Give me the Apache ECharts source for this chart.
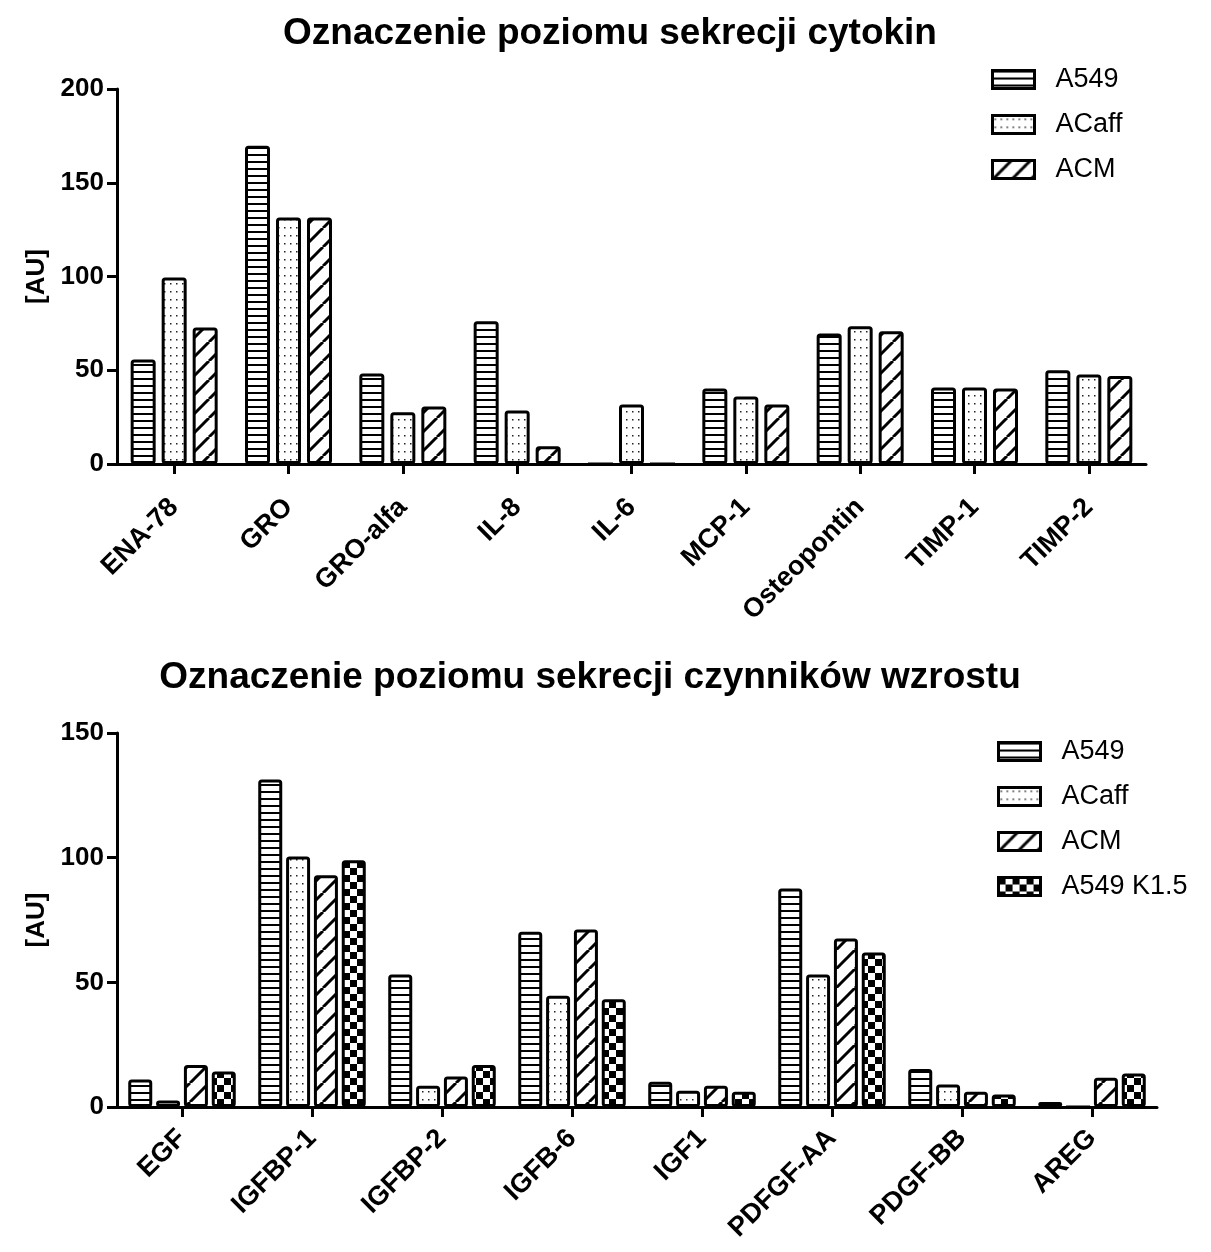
<!DOCTYPE html>
<html>
<head>
<meta charset="utf-8">
<script src="https://cdn.jsdelivr.net/npm/echarts@6/dist/echarts.min.js"></script>
<style>html,body{margin:0;padding:0;background:#fff}#c{width:1211px;height:1252px}</style>
</head>
<body>
<div id="c"></div>
<script>
// ---- data ----
const cytoTitle = 'Oznaczenie poziomu sekrecji cytokin';
const gfTitle = 'Oznaczenie poziomu sekrecji czynników wzrostu';
const yName = '[AU]';
const cytoCategories = ['ENA-78','GRO','GRO-alfa','IL-8','IL-6','MCP-1','Osteopontin','TIMP-1','TIMP-2'];
const cytoA549  = [55.8, 169.8, 48.3, 76.2, 0, 40.3, 69.6, 40.8, 50.0];
const cytoACaff = [99.5, 131.5, 27.6, 28.5, 31.7, 36.0, 73.5, 40.8, 47.7];
const cytoACM   = [72.8, 131.5, 30.7, 9.5, 0, 31.7, 70.8, 40.3, 47.0];
const cytoTicks = [0, 50, 100, 150, 200];

const gfCategories = ['EGF','IGFBP-1','IGFBP-2','IGFB-6','IGF1','PDFGF-AA','PDGF-BB','AREG'];
const gfA549  = [11.0, 131.4, 53.1, 70.3, 10.1, 87.6, 15.2, 2.0];
const gfACaff = [2.6, 100.5, 8.5, 44.6, 6.5, 53.1, 9.0, 0];
const gfACM   = [16.8, 92.9, 12.2, 71.2, 8.5, 67.6, 6.1, 11.7];
const gfK15   = [14.2, 99.0, 16.8, 43.2, 6.1, 62.0, 5.0, 13.4];
const gfTicks = [0, 50, 100, 150];

const cytoSeriesNames = ['A549', 'ACaff', 'ACM'];
const gfSeriesNames = ['A549 ', 'ACaff ', 'ACM ', 'A549 K1.5'];

// ---- patterns ----
function mk(w, h, draw) {
  const c = document.createElement('canvas');
  c.width = w; c.height = h;
  const g = c.getContext('2d');
  g.fillStyle = '#fff'; g.fillRect(0, 0, w, h);
  g.fillStyle = '#000'; g.strokeStyle = '#000';
  draw(g, w, h);
  return { image: c, repeat: 'repeat' };
}
const patH = mk(8, 7, (g, w) => { g.fillRect(0, 0, w, 2); });
const patDot = mk(6, 8, (g) => { g.fillStyle = '#222'; g.fillRect(2, 3, 1.5, 1.5); });
const patDiag = mk(19, 19, (g, w, h) => {
  g.lineWidth = 3;
  for (const o of [-w, 0, w]) {
    g.beginPath(); g.moveTo(o, h); g.lineTo(o + w, 0); g.stroke();
  }
});
const patChk = mk(14, 14, (g) => { g.fillRect(0, 0, 7, 7); g.fillRect(7, 7, 7, 7); });

const FONT = 'Liberation Sans, Arial, sans-serif';

function barSeries(name, data, pat, axisIdx) {
  return {
    type: 'bar', name, data,
    xAxisIndex: axisIdx, yAxisIndex: axisIdx,
    barWidth: axisIdx === 0 ? 25 : 24,
    barGap: axisIdx === 0 ? '24%' : '16%',
    itemStyle: { color: pat, borderColor: '#000', borderWidth: 3, borderRadius: 2 },
    emphasis: { disabled: true },
    animation: false
  };
}
function yAx(ticks, idx) {
  return {
    type: 'value', gridIndex: idx, min: ticks[0], max: ticks[ticks.length - 1], interval: ticks[1] - ticks[0],
    name: yName, nameLocation: 'middle', nameRotate: 90, nameGap: 63,
    nameTextStyle: { fontFamily: FONT, fontWeight: 'bold', fontSize: 26, color: '#000' },
    axisLine: { show: true, lineStyle: { color: '#000', width: 3 } },
    axisTick: { show: true, length: 10, lineStyle: { color: '#000', width: 3 } },
    axisLabel: { fontFamily: FONT, fontWeight: 'bold', fontSize: 26, color: '#000', margin: 13 },
    splitLine: { show: false }
  };
}
function xAx(cats, idx, margin) {
  return {
    type: 'category', gridIndex: idx, data: cats,
    axisLine: { show: true, lineStyle: { color: '#000', width: 3 } },
    axisTick: { show: true, alignWithLabel: true, length: 10, lineStyle: { color: '#000', width: 3 } },
    axisLabel: { fontFamily: FONT, fontWeight: 'bold', fontSize: 27, color: '#000', rotate: 45, margin: margin, interval: 0 }
  };
}
const legendCommon = {
  orient: 'vertical', itemWidth: 42, itemHeight: 18, itemGap: 18, padding: 0,
  selectedMode: false, icon: 'rect',
  textStyle: { fontFamily: FONT, fontSize: 27, color: '#000', padding: [0, 0, 0, 16] },
  itemStyle: { borderColor: '#000', borderWidth: 3 }
};

const chart = echarts.init(document.getElementById('c'), null, { renderer: 'canvas' });
chart.setOption({
  backgroundColor: '#fff',
  animation: false,
  title: [
    { text: cytoTitle, left: 605, top: 10, textAlign: 'center',
      textStyle: { fontFamily: FONT, fontWeight: 'bold', fontSize: 37, color: '#000' } },
    { text: gfTitle, left: 585, top: 654, textAlign: 'center',
      textStyle: { fontFamily: FONT, fontWeight: 'bold', fontSize: 37, color: '#000' } }
  ],
  legend: [
    Object.assign({}, legendCommon, { left: 991, top: 66, data: cytoSeriesNames }),
    Object.assign({}, legendCommon, { left: 997, top: 738, data: gfSeriesNames })
  ],
  grid: [
    { left: 117, top: 89, width: 1029, height: 375 },
    { left: 117, top: 733, width: 1040, height: 374 }
  ],
  xAxis: [xAx(cytoCategories, 0, 39), xAx(gfCategories, 1, 27)],
  yAxis: [yAx(cytoTicks, 0), yAx(gfTicks, 1)],
  series: [
    barSeries(cytoSeriesNames[0], cytoA549, patH, 0),
    barSeries(cytoSeriesNames[1], cytoACaff, patDot, 0),
    barSeries(cytoSeriesNames[2], cytoACM, patDiag, 0),
    barSeries(gfSeriesNames[0], gfA549, patH, 1),
    barSeries(gfSeriesNames[1], gfACaff, patDot, 1),
    barSeries(gfSeriesNames[2], gfACM, patDiag, 1),
    barSeries(gfSeriesNames[3], gfK15, patChk, 1)
  ]
});
</script>
</body>
</html>
